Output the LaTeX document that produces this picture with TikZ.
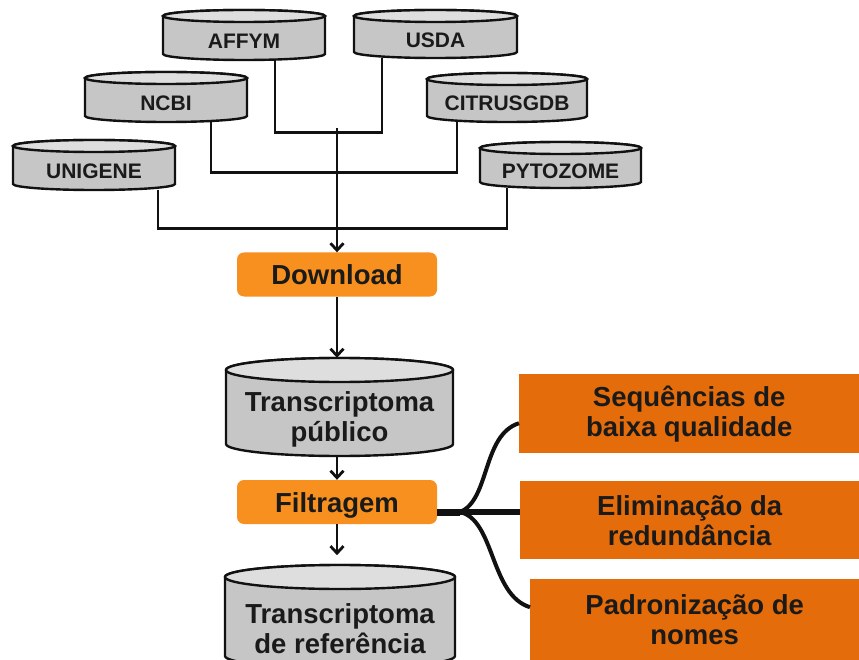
\documentclass[tikz,border=0pt]{standalone}
\usepackage{fontspec}
\setmainfont{Liberation Sans}
\usetikzlibrary{arrows.meta,backgrounds}
\definecolor{cylbodyc}{HTML}{C6C6C6}
\definecolor{cyltopc}{HTML}{DEDEDE}
\definecolor{orlight}{HTML}{F7901E}
\definecolor{ordark}{HTML}{E46C0A}
\definecolor{txt}{HTML}{1A1A1A}
\definecolor{ln}{HTML}{111111}
\tikzset{
  cylbody/.style={fill=cylbodyc, draw=ln, line width=2.4pt},
  cyltop/.style={fill=cyltopc, draw=ln, line width=2.4pt},
  conn/.style={draw=ln, line width=2.8pt},
  arr/.style={conn, -{Straight Barb[length=7pt,width=13pt]}},
  bigfont/.style={font=\bfseries\fontsize{27.5}{30}\selectfont},
  smallfont/.style={font=\bfseries\fontsize{21}{24}\selectfont},
  obox/.style={bigfont, fill=orlight, rounded corners=7pt, minimum width=200pt,
    minimum height=44pt, inner sep=0pt, text=txt, text height=20pt, text depth=0pt},
  rbox/.style={bigfont, fill=ordark, inner sep=0pt, text=txt, align=center, anchor=north west},
  cyltext/.style={text=txt, align=center, inner sep=0pt}
}
% name, x1, x2, ytop, ybot, ry, text style, text
\newcommand\dbcyl[8]{%
  \pgfmathsetmacro\dbcx{(#2+#3)/2}%
  \pgfmathsetmacro\dbrx{(#3-#2)/2}%
  \pgfmathsetmacro\dbcy{(#4+#5)/2}%
  \pgfmathsetmacro\dbty{(#4+2*#6+#5)/2}%
  \pgfmathsetmacro\dbw{#3-#2}%
  \pgfmathsetmacro\dbh{#5-#4}%
  \path[cylbody] (#2,#4+#6) -- (#2,#5-#6)
     arc[start angle=180,end angle=360,x radius=\dbrx pt,y radius=#6pt]
     -- (#3,#4+#6)
     arc[start angle=0,end angle=180,x radius=\dbrx pt,y radius=#6pt] -- cycle;
  \path[cyltop] (\dbcx,#4+#6) ellipse[x radius=\dbrx pt, y radius=#6pt];
  \node[inner sep=0pt, minimum width=\dbw pt, minimum height=\dbh pt] (#1) at (\dbcx,\dbcy) {};
  \node[cyltext, #7] (#1-t) at (\dbcx,\dbty) {#8};
}
\begin{document}
\begin{tikzpicture}[x=1pt,y=-1pt]
\useasboundingbox (0,0) rectangle (859,660);
\clip (0,0) rectangle (859,660);

% databases
\dbcyl{affym}{163}{325}{10}{60}{6}{smallfont}{AFFYM}
\dbcyl{usda}{354}{517}{10}{58}{6}{smallfont}{USDA}
\dbcyl{ncbi}{85}{247}{72}{122}{6}{smallfont}{NCBI}
\dbcyl{citrus}{427}{587}{73}{122}{6}{smallfont}{CITRUSGDB}
\dbcyl{unigene}{13}{175}{140}{190}{6}{smallfont}{UNIGENE}
\dbcyl{pytozome}{480}{641}{142}{188}{6}{smallfont}{PYTOZOME}

% process boxes
\node[obox] (download) at (337,274.5) {Download};
\dbcyl{pub}{226}{453}{358}{456}{12}{bigfont}{Transcriptoma\\público}
\node[obox] (filt) at (337,502) {Filtragem};
\dbcyl{ref}{225}{455}{565}{668}{12}{bigfont}{Transcriptoma\\de referência}

% filtering steps
\node[rbox, minimum width=340pt, minimum height=79pt] (s1) at (519,374) {Sequências de\\baixa qualidade};
\node[rbox, minimum width=339pt, minimum height=78pt] (s2) at (520,481) {Eliminação da\\redundância};
\node[rbox, minimum width=329pt, minimum height=81pt] (s3) at (530,579) {Padronização de\\nomes};

\coordinate (hub) at (337,128);
\coordinate (jn) at (460,512);

\begin{scope}[on background layer]
  \fill[white] (0,0) rectangle (859,660);
  \draw[conn] ([xshift=31pt]affym.south) -- ++(0,72) -| ([xshift=-53.5pt]usda.south);
  \draw[conn] ([xshift=45pt]ncbi.south) -- ++(0,50) -| ([xshift=-50pt]citrus.south);
  \draw[conn] ([xshift=64pt]unigene.south) -- ++(0,38) -| ([xshift=-53.5pt]pytozome.south);
\end{scope}
\draw[arr] (hub) -- (download.north);
\draw[arr] (download.south) -- (download.south |- pub.north);
\draw[arr] (filt.north |- pub.south) -- (filt.north);
\draw[arr] (filt.south) -- ++(0,31);

% branches
\draw[draw=ln, line width=7pt] ([yshift=-10pt]filt.east) -- (jn);
\draw[draw=ln, line width=5.5pt] (jn) -- (jn -| s2.west);
\draw[draw=ln, line width=4pt] (jn) .. controls (490,500) and (482,435) .. ([yshift=-9.5pt]s1.west);
\draw[draw=ln, line width=4pt] (jn) .. controls (495,520) and (490,595) .. ([yshift=12.5pt]s3.west);
\end{tikzpicture}
\end{document}
